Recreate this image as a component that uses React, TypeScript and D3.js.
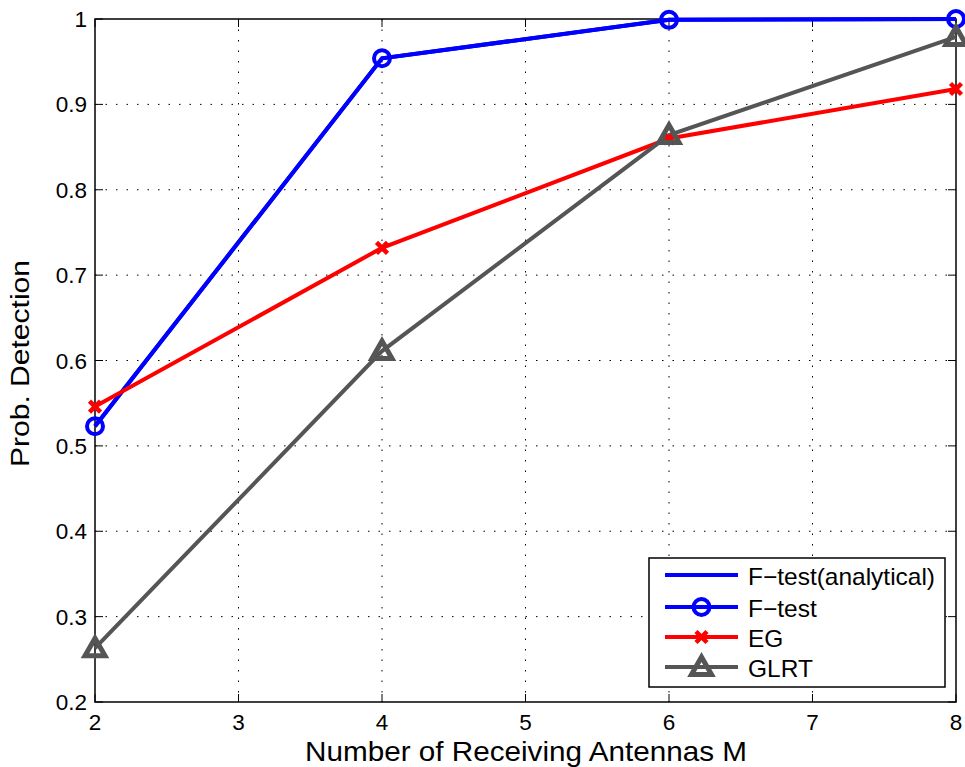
import React from "react";
import * as d3 from "d3";

const antennas = [2, 4, 6, 8];
const fTestAnalytical = [0.523, 0.954, 0.999, 1.0];
const fTest = [0.523, 0.954, 0.999, 1.0];
const eg = [0.546, 0.732, 0.86, 0.918];
const glrt = [0.263, 0.611, 0.864, 0.979];
const xTicks = [2, 3, 4, 5, 6, 7, 8];
const yTicks = [0.2, 0.3, 0.4, 0.5, 0.6, 0.7, 0.8, 0.9, 1];
const legendLabels = ["F\u2212test(analytical)", "F\u2212test", "EG", "GLRT"];

const W = 965, H = 767;
const L = 95, R = 956, T = 19, B = 702;
const FONT = "Liberation Sans, Arial, Helvetica, sans-serif";

export default function App() {
  const x = d3.scaleLinear().domain([2, 8]).range([L, R]);
  const y = d3.scaleLinear().domain([0.2, 1]).range([B, T]);
  const line = (vals: number[]) =>
    d3.line<number>().x((_, i) => x(antennas[i])).y((v) => y(v))(vals) || "";

  const blue = "#0000ff", red = "#ff0000", grey = "#555555";

  const circle = (cx: number, cy: number, k: string) => (
    <circle key={k} cx={cx} cy={cy} r={8} fill="none" stroke={blue} strokeWidth={4} />
  );
  const cross = (cx: number, cy: number, k: string) => (
    <path key={k} d={`M${cx - 5.5},${cy - 5.5}L${cx + 5.5},${cy + 5.5}M${cx - 5.5},${cy + 5.5}L${cx + 5.5},${cy - 5.5}`} stroke={red} strokeWidth={4.5} />
  );
  const tri = (cx: number, cy: number, k: string) => (
    <path key={k} d={`M${cx},${cy - 10}L${cx + 10},${cy + 7.5}L${cx - 10},${cy + 7.5}Z`} fill="none" stroke={grey} strokeWidth={5} strokeLinejoin="miter" />
  );

  const legX0 = 665, legX1 = 738, legTx = 748;
  const legRows = [575, 607, 637, 667];

  return (
    <svg width={W} height={H} style={{ position: "absolute", left: 0, top: 0, background: "#fff" }}>
      <rect x={0} y={0} width={W} height={H} fill="#fff" />
      {xTicks.slice(1, -1).map((t) => (
        <line key={"gx" + t} x1={x(t)} x2={x(t)} y1={T} y2={B} stroke="#000" strokeWidth={1} strokeDasharray="1.5,9" />
      ))}
      {yTicks.slice(1, -1).map((t) => (
        <line key={"gy" + t} x1={L} x2={R} y1={y(t)} y2={y(t)} stroke="#000" strokeWidth={1} strokeDasharray="1.5,9" />
      ))}
      {xTicks.map((t) => (
        <g key={"tx" + t}>
          <line x1={x(t)} x2={x(t)} y1={B} y2={B - 8} stroke="#000" />
          <line x1={x(t)} x2={x(t)} y1={T} y2={T + 8} stroke="#000" />
          <text x={x(t)} y={730} textAnchor="middle" fontFamily={FONT} fontSize={22.5}>{t}</text>
        </g>
      ))}
      {yTicks.map((t) => (
        <g key={"ty" + t}>
          <line x1={L} x2={L + 8} y1={y(t)} y2={y(t)} stroke="#000" />
          <line x1={R} x2={R - 8} y1={y(t)} y2={y(t)} stroke="#000" />
          <text x={L - 8} y={y(t) + 8} textAnchor="end" fontFamily={FONT} fontSize={22.5}>{d3.format("~g")(t)}</text>
        </g>
      ))}
      <rect x={L} y={T} width={R - L} height={B - T} fill="none" stroke="#000" strokeWidth={1.5} />
      <path d={line(fTestAnalytical)} fill="none" stroke={blue} strokeWidth={4} />
      <path d={line(fTest)} fill="none" stroke={blue} strokeWidth={4} />
      <path d={line(eg)} fill="none" stroke={red} strokeWidth={4} />
      <path d={line(glrt)} fill="none" stroke={grey} strokeWidth={4} />
      {fTest.map((v, i) => circle(x(antennas[i]), y(v), "c" + i))}
      {eg.map((v, i) => cross(x(antennas[i]), y(v), "x" + i))}
      {glrt.map((v, i) => tri(x(antennas[i]), y(v), "t" + i))}
      <rect x={649} y={558} width={296} height={129} fill="#fff" stroke="#000" strokeWidth={1.5} />
      <line x1={legX0} x2={legX1} y1={legRows[0]} y2={legRows[0]} stroke={blue} strokeWidth={4} />
      <line x1={legX0} x2={legX1} y1={legRows[1]} y2={legRows[1]} stroke={blue} strokeWidth={4} />
      {circle((legX0 + legX1) / 2, legRows[1], "lc")}
      <line x1={legX0} x2={legX1} y1={legRows[2]} y2={legRows[2]} stroke={red} strokeWidth={4} />
      {cross((legX0 + legX1) / 2, legRows[2], "lx")}
      <line x1={legX0} x2={legX1} y1={legRows[3]} y2={legRows[3]} stroke={grey} strokeWidth={4} />
      {tri((legX0 + legX1) / 2, legRows[3], "lt")}
      {legendLabels.map((s, i) => (
        <text key={s} x={legTx} y={legRows[i] + 10} fontFamily={FONT} fontSize={24} transform={`translate(${legTx},0) scale(1.02,1) translate(${-legTx},0)`}>{s}</text>
      ))}
      <text x={305} y={761} fontFamily={FONT} fontSize={28} textLength={442} lengthAdjust="spacingAndGlyphs">Number of Receiving Antennas M</text>
      <text transform={`translate(29,467) rotate(-90)`} fontFamily={FONT} fontSize={26} textLength={207} lengthAdjust="spacingAndGlyphs">Prob. Detection</text>
    </svg>
  );
}
